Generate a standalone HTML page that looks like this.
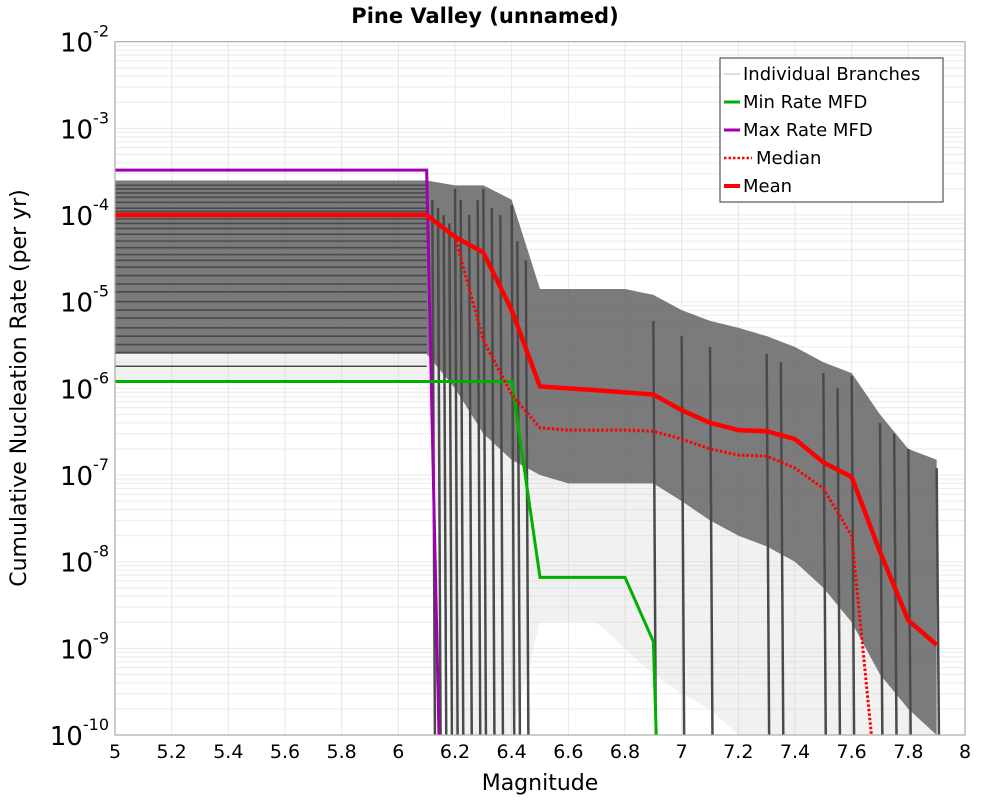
<!DOCTYPE html>
<html><head><meta charset="utf-8"><style>
body{margin:0;background:#fff;}
svg text{font-family:"DejaVu Sans","Liberation Sans",sans-serif;}
</style></head><body>
<svg id="chart" width="1000" height="800" xmlns="http://www.w3.org/2000/svg">
<text x="485" y="23" text-anchor="middle" font-size="21" font-weight="bold">Pine Valley (unnamed)</text>
<text transform="translate(26,388) rotate(-90)" text-anchor="middle" font-size="22">Cumulative Nucleation Rate (per yr)</text>
<text x="540" y="790" text-anchor="middle" font-size="22">Magnitude</text>
<defs><clipPath id="pc"><rect x="115" y="41.7" width="850" height="693.3"/></clipPath></defs>
<g id="grid"></g>
<g id="marks" clip-path="url(#pc)"></g>
<rect x="115" y="41.7" width="850" height="693.3" fill="none" stroke="#aaa" stroke-width="1.2"/>
<g id="ticks"></g>
<g>
<rect x="720" y="58" width="223" height="144" fill="#fff" stroke="#333" stroke-width="1"/>
<g><line x1="724" y1="74" x2="740" y2="74" stroke="#bbb" stroke-width="1"/><text x="743" y="80" font-size="18">Individual Branches</text></g>
<g><line x1="724" y1="102" x2="740" y2="102" stroke="#00b000" stroke-width="3"/><text x="743" y="108" font-size="18">Min Rate MFD</text></g>
<g><line x1="724" y1="130" x2="740" y2="130" stroke="#a000b0" stroke-width="3"/><text x="743" y="136" font-size="18">Max Rate MFD</text></g>
<g><line x1="724" y1="158" x2="752" y2="158" stroke="#f00" stroke-width="2.5" stroke-dasharray="2.5,2"/><text x="756" y="164" font-size="18">Median</text></g>
<g><line x1="724" y1="186" x2="740" y2="186" stroke="#f00" stroke-width="4"/><text x="743" y="192" font-size="18">Mean</text></g>
</g>
</svg>
<script>
const mags=[5,6.1,6.2,6.3,6.4,6.5,6.6,6.7,6.8,6.9,7.0,7.1,7.2,7.3,7.4,7.5,7.6,7.7,7.8,7.9];
const meanVals=[1e-4,1e-4,5.6e-5,3.7e-5,8e-6,1.05e-6,1e-6,9.5e-7,9e-7,8.5e-7,5.6e-7,4e-7,3.3e-7,3.2e-7,2.6e-7,1.4e-7,9.5e-8,1.3e-8,2.1e-9,1.1e-9];
const medianVals=[1e-4,1e-4,5.6e-5,3.6e-6,8.5e-7,3.5e-7,3.3e-7,3.3e-7,3.3e-7,3.2e-7,2.6e-7,2e-7,1.7e-7,1.65e-7,1.2e-7,7e-8,2e-8,1e-11,1e-11,1e-11];
const minMags=[5,6.4,6.5,6.8,6.9,6.92];
const minVals=[1.2e-6,1.2e-6,6.6e-9,6.6e-9,1.2e-9,1e-11];
const maxMags=[5,6.1,6.15];
const maxVals=[3.3e-4,3.3e-4,1e-11];
const bandUpper=[2.5e-4,2.5e-4,2.2e-4,2.2e-4,1.5e-4,1.4e-5,1.4e-5,1.4e-5,1.4e-5,1.2e-5,8e-6,6e-6,5e-6,4e-6,3e-6,2e-6,1.5e-6,5e-7,2e-7,1.5e-7];
const bandLower=[2.5e-6,2.5e-6,1e-6,3e-7,1.5e-7,1e-7,8e-8,8e-8,8e-8,8e-8,5e-8,3e-8,2e-8,1.5e-8,1e-8,5e-9,2e-9,5e-10,2e-10,1e-10];
const lightLower=[1.2e-6,1.2e-6,1e-10,1e-10,1e-10,2e-9,2e-9,2e-9,1e-9,5e-10,3e-10,2e-10,1e-10,1e-10,1e-10,1e-10,1e-10,1e-10,1e-10,1e-10];
const levelsAtM5=[2.2e-4,2e-4,1.8e-4,1.6e-4,1.4e-4,1.2e-4,1.1e-4,9e-5,8e-5,7e-5,6e-5,5e-5,4.2e-5,3.5e-5,3e-5,2.5e-5,2e-5,1.6e-5,1.3e-5,1e-5,8e-6,6.5e-6,5e-6,4e-6,3.2e-6,2.6e-6,1.8e-6];
const dropMags=[6.12,6.14,6.16,6.18,6.2,6.22,6.25,6.28,6.3,6.33,6.36,6.4,6.42,6.45,6.9,7.0,7.1,7.3,7.35,7.5,7.55,7.6,7.7,7.75,7.8,7.9];
const dropFrom=[1.5e-4,1.2e-4,1e-4,8e-5,2e-4,1.5e-4,1e-4,1.5e-4,2e-4,1.2e-4,1e-4,1.3e-4,5e-5,3e-5,6e-6,4e-6,3e-6,2.5e-6,2e-6,1.5e-6,1e-6,1.4e-6,4e-7,3e-7,2e-7,1.2e-7];
const xTicks=[5,5.2,5.4,5.6,5.8,6,6.2,6.4,6.6,6.8,7,7.2,7.4,7.6,7.8,8];
const yExps=[-2,-3,-4,-5,-6,-7,-8,-9,-10];

const NS="http://www.w3.org/2000/svg";
const X=m=>115+(m-5)*850/3;
const Y=v=>41.7+(-2-Math.log10(v))*86.666;
function mk(tag,parent,attrs){const e=document.createElementNS(NS,tag);for(const k in attrs)e.setAttribute(k,attrs[k]);parent.appendChild(e);return e;}
const grid=document.getElementById('grid'),marks=document.getElementById('marks'),ticks=document.getElementById('ticks');
for(let d=-10;d<-2;d++)for(let k=1;k<10;k++){const y=Y(k*Math.pow(10,d));const l=mk('line',grid,{x1:115,x2:965,y1:y,y2:y,stroke:'#ebebeb','stroke-width':1});

}
xTicks.forEach(t=>{const l=mk('line',grid,{x1:X(t),x2:X(t),y1:41.7,y2:735,stroke:'#e6e6e6','stroke-width':1});


const tx=mk('text',ticks,{x:X(t),y:758,'text-anchor':'middle','font-size':19});tx.textContent=String(t);

});
yExps.forEach(e=>{const y=Y(Math.pow(10,e));const g=mk('text',ticks,{x:109,y:y+10,'text-anchor':'end','font-size':26});


const a=mk('tspan',g,{});a.textContent='10';const b=mk('tspan',g,{'font-size':16,dy:-15});b.textContent=String(e);});
function pts(ms,vs){return ms.map((m,i)=>X(m)+','+Y(vs[i])).join(' ');}
const light=mk('polygon',marks,{points:pts(mags,bandUpper)+' '+pts(mags.slice().reverse(),lightLower.slice().reverse()),fill:'#c8c8c8','fill-opacity':0.25});


const dark=mk('polygon',marks,{points:pts(mags,bandUpper)+' '+pts(mags.slice().reverse(),bandLower.slice().reverse()),fill:'#5a5a5a','fill-opacity':0.78});


levelsAtM5.forEach(v=>{const l=mk('polyline',marks,{points:pts([5,6.1],[v,v]),fill:'none',stroke:'#4a4a4a','stroke-width':1.6});

});
dropMags.forEach((m,i)=>{const l=mk('line',marks,{x1:X(m),x2:X(m)+3,y1:Y(dropFrom[i]),y2:Y(1e-11),stroke:'#4a4a4a','stroke-width':2.5});

});
const mx=mk('polyline',marks,{points:pts(maxMags,maxVals),fill:'none',stroke:'#a000b0','stroke-width':3});


const mn=mk('polyline',marks,{points:pts(minMags,minVals),fill:'none',stroke:'#00b000','stroke-width':3});


const md=mk('polyline',marks,{points:pts(mags,medianVals),fill:'none',stroke:'#f00','stroke-width':3,'stroke-dasharray':'2.5,2'});


const me=mk('polyline',marks,{points:pts(mags,meanVals),fill:'none',stroke:'#f00','stroke-width':4.5,'stroke-linejoin':'round'});


</script>
</body></html>
